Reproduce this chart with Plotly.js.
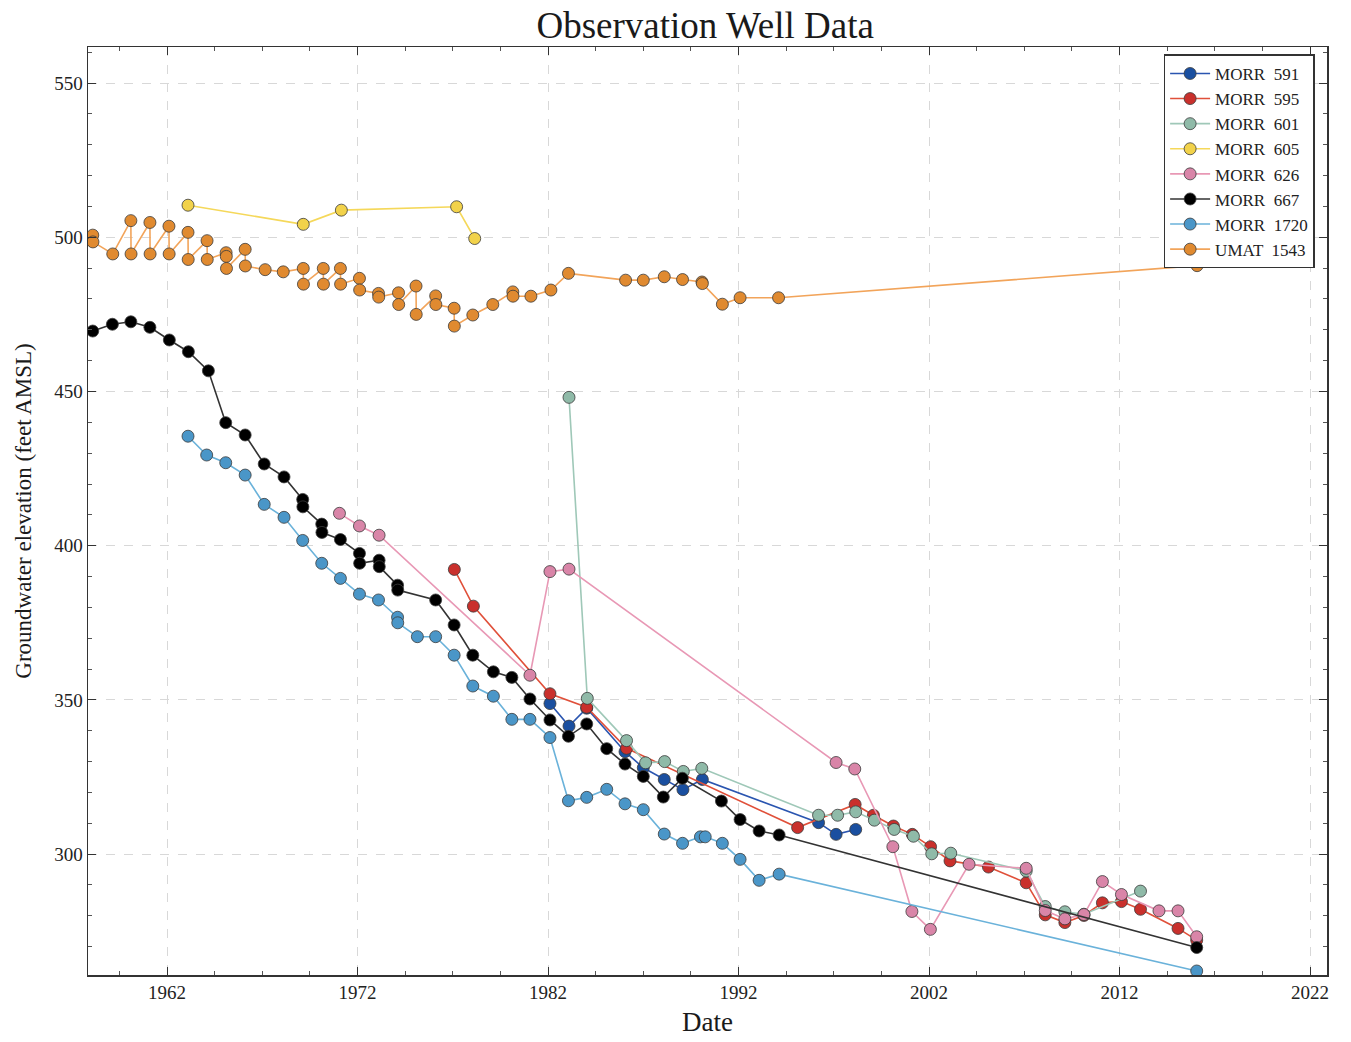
<!DOCTYPE html>
<html>
<head>
<meta charset="utf-8">
<script src="https://cdn.plot.ly/plotly-3.0.1.min.js"></script>
<style>html,body{margin:0;padding:0;background:#fff;}#chart{width:1351px;height:1042px;}</style>
</head>
<body>
<div id="chart"></div>
<script>
// ---- Data (decimal year, groundwater elevation ft AMSL) ----
const morr591_x = [1982.1, 1983.1, 1984.03, 1986.04, 1987.0, 1988.1, 1989.08, 1990.1, 1996.2, 1997.12, 1998.15];
const morr591_y = [348.8, 341.5, 347.3, 333.2, 328.0, 324.2, 320.9, 324.2, 310.2, 306.4, 308.0];

const morr595_x = [1977.08, 1978.08, 1982.1, 1984.03, 1986.12, 1995.1, 1998.12, 1999.08, 2000.13, 2001.12, 2002.08, 2003.1, 2005.12, 2007.1, 2008.1, 2009.13, 2010.13, 2011.1, 2012.1, 2013.1, 2015.07, 2016.05];
const morr595_y = [392.3, 380.4, 352.0, 347.6, 334.3, 308.6, 316.1, 312.6, 309.1, 306.4, 302.4, 297.8, 295.8, 290.7, 280.3, 277.8, 280.1, 284.2, 284.6, 282.1, 275.9, 272.1];

const morr601_x = [1983.1, 1984.06, 1986.12, 1987.12, 1988.12, 1989.1, 1990.07, 1996.2, 1997.2, 1998.15, 1999.13, 2000.17, 2001.18, 2002.14, 2003.14, 2007.1, 2008.1, 2009.13, 2010.13, 2013.1];
const morr601_y = [448.1, 350.5, 336.8, 329.6, 330.0, 326.8, 327.8, 312.6, 312.6, 313.7, 311.0, 308.0, 305.8, 300.1, 300.3, 294.5, 283.0, 281.3, 280.5, 288.0];

const morr605_x = [1963.1, 1969.15, 1971.15, 1977.2, 1978.15];
const morr605_y = [510.4, 504.2, 508.8, 509.9, 499.6];

const morr626_x = [1971.05, 1972.1, 1973.13, 1981.05, 1982.1, 1983.1, 1997.12, 1998.1, 2000.1, 2001.1, 2002.07, 2004.1, 2007.1, 2008.1, 2009.13, 2010.13, 2011.1, 2012.1, 2014.07, 2015.07, 2016.05];
const morr626_y = [410.5, 406.4, 403.4, 358.0, 391.6, 392.4, 329.7, 327.6, 302.4, 281.4, 275.6, 296.7, 295.4, 281.7, 279.0, 280.4, 291.1, 286.9, 281.6, 281.6, 273.2];

const morr667_x = [1958.1, 1959.13, 1960.1, 1961.1, 1962.12, 1963.12, 1964.17, 1965.08, 1966.1, 1967.1, 1968.14, 1969.12, 1969.13, 1970.12, 1970.13, 1971.1, 1972.1, 1972.11, 1973.13, 1973.14, 1974.1, 1974.11, 1976.1, 1977.07, 1978.05, 1979.13, 1980.1, 1981.05, 1982.1, 1983.07, 1984.03, 1985.08, 1986.04, 1987.0, 1988.05, 1989.05, 1991.1, 1992.08, 1993.08, 1994.13, 2016.05];
const morr667_y = [469.6, 471.8, 472.6, 470.8, 466.7, 462.9, 456.7, 439.9, 435.9, 426.5, 422.3, 415.0, 412.6, 407.0, 404.3, 402.0, 397.5, 394.3, 395.3, 393.2, 387.2, 385.6, 382.4, 374.3, 364.5, 359.1, 357.3, 350.3, 343.5, 338.2, 342.2, 334.2, 329.2, 325.2, 318.5, 324.6, 317.2, 311.2, 307.5, 306.2, 269.7];

const morr1720_x = [1963.1, 1964.08, 1965.08, 1966.1, 1967.1, 1968.14, 1969.12, 1970.12, 1971.1, 1972.1, 1973.1, 1974.1, 1974.11, 1975.14, 1976.1, 1977.07, 1978.05, 1979.13, 1980.1, 1981.05, 1982.1, 1983.07, 1984.03, 1985.08, 1986.04, 1987.0, 1988.1, 1989.06, 1990.0, 1990.25, 1991.15, 1992.08, 1993.08, 1994.13, 2016.05];
const morr1720_y = [435.5, 429.4, 426.9, 422.9, 413.4, 409.2, 401.7, 394.3, 389.4, 384.3, 382.4, 376.8, 375.0, 370.5, 370.5, 364.5, 354.5, 351.2, 343.7, 343.7, 337.8, 317.3, 318.4, 321.0, 316.3, 314.4, 306.5, 303.5, 305.6, 305.6, 303.5, 298.3, 291.5, 293.5, 262.1];

const umat1543_x = [1958.1, 1958.11, 1959.15, 1960.1, 1960.11, 1961.1, 1961.11, 1962.1, 1962.11, 1963.1, 1963.11, 1964.1, 1964.11, 1965.1, 1965.11, 1965.12, 1966.1, 1966.11, 1967.15, 1968.1, 1969.15, 1969.16, 1970.2, 1970.21, 1971.1, 1971.11, 1972.1, 1972.11, 1973.1, 1973.11, 1974.15, 1974.16, 1975.07, 1975.08, 1976.1, 1976.11, 1977.07, 1977.08, 1978.05, 1979.1, 1980.15, 1980.16, 1981.1, 1982.15, 1983.07, 1986.07, 1987.0, 1988.1, 1989.06, 1990.08, 1990.1, 1991.15, 1992.08, 1994.1, 2016.07];
const umat1543_y = [500.7, 498.5, 494.6, 505.4, 494.6, 504.8, 494.6, 503.6, 494.6, 501.6, 492.8, 498.9, 492.8, 495.0, 493.8, 489.9, 496.1, 490.7, 489.5, 488.8, 489.9, 484.8, 489.9, 484.8, 489.9, 484.8, 486.7, 482.9, 481.8, 480.6, 482.0, 478.2, 484.2, 475.0, 481.0, 478.2, 477.0, 471.2, 474.8, 478.2, 482.3, 480.9, 480.9, 482.9, 488.3, 486.1, 486.1, 487.2, 486.3, 485.5, 485.0, 478.3, 480.4, 480.4, 490.8];

// ---- Traces ----
function tr(name, x, y, mcol, lcol) {
  return {
    type: 'scatter', mode: 'lines+markers', name: name, x: x, y: y,
    line: {color: lcol, width: 1.6},
    marker: {color: mcol, size: 12, line: {color: 'rgba(60,60,60,0.8)', width: 1}}
  };
}
const traces = [
  tr('MORR  591', morr591_x, morr591_y, '#1a4fa0', '#2a55b0'),
  tr('MORR  595', morr595_x, morr595_y, '#c9302c', '#e0503a'),
  tr('MORR  601', morr601_x, morr601_y, '#8fbaa8', '#9fc8b8'),
  tr('MORR  605', morr605_x, morr605_y, '#f2d24a', '#f5d85a'),
  tr('MORR  626', morr626_x, morr626_y, '#d985a8', '#e898b5'),
  tr('MORR  667', morr667_x, morr667_y, '#000000', '#333333'),
  tr('MORR  1720', morr1720_x, morr1720_y, '#4a96c8', '#6ab2da'),
  tr('UMAT  1543', umat1543_x, umat1543_y, '#e08a30', '#f2a45a')
];

const serif = 'Liberation Serif, Times New Roman, serif';
const layout = {
  width: 1351, height: 1042,
  paper_bgcolor: '#ffffff', plot_bgcolor: '#ffffff',
  margin: {l: 88, r: 24, t: 47, b: 67},
  title: {text: 'Observation Well Data', x: 0.522, xanchor: 'center', y: 0.976, yanchor: 'middle',
          font: {family: serif, size: 37, color: '#1a1a1a'}},
  showlegend: true,
  legend: {x: 0.99, y: 0.992, xanchor: 'right', yanchor: 'top',
           bgcolor: '#ffffff', bordercolor: '#333', borderwidth: 1.5,
           font: {family: serif, size: 17, color: '#222'}, tracegroupgap: 0, itemwidth: 40},
  xaxis: {
    range: [1957.85, 2022.89], tick0: 1962, dtick: 10, tickformat: 'd',
    showgrid: true, gridcolor: '#d8d8d8', griddash: 'dash', gridwidth: 1,
    zeroline: false, showline: true, linecolor: '#333', linewidth: 1.5, mirror: 'ticks',
    ticks: 'inside', ticklen: 8, tickcolor: '#333',
    minor: {dtick: 2.5, tick0: 1962, ticks: 'inside', ticklen: 4, tickcolor: '#555', showgrid: false},
    tickfont: {family: serif, size: 19, color: '#222'},
    title: {text: 'Date', font: {family: serif, size: 27, color: '#1a1a1a'}, standoff: 10}
  },
  yaxis: {
    range: [260.8, 561.7], tick0: 300, dtick: 50,
    showgrid: true, gridcolor: '#d8d8d8', griddash: 'dash', gridwidth: 1,
    zeroline: false, showline: true, linecolor: '#333', linewidth: 1.5, mirror: 'ticks',
    ticks: 'inside', ticklen: 8, tickcolor: '#333',
    minor: {dtick: 10, tick0: 300, ticks: 'inside', ticklen: 4, tickcolor: '#555', showgrid: false},
    tickfont: {family: serif, size: 19, color: '#222'},
    title: {text: 'Groundwater elevation (feet AMSL)', font: {family: serif, size: 23, color: '#1a1a1a'}, standoff: 16}
  }
};
Plotly.newPlot('chart', traces, layout, {displayModeBar: false, staticPlot: true});
</script>
</body>
</html>
